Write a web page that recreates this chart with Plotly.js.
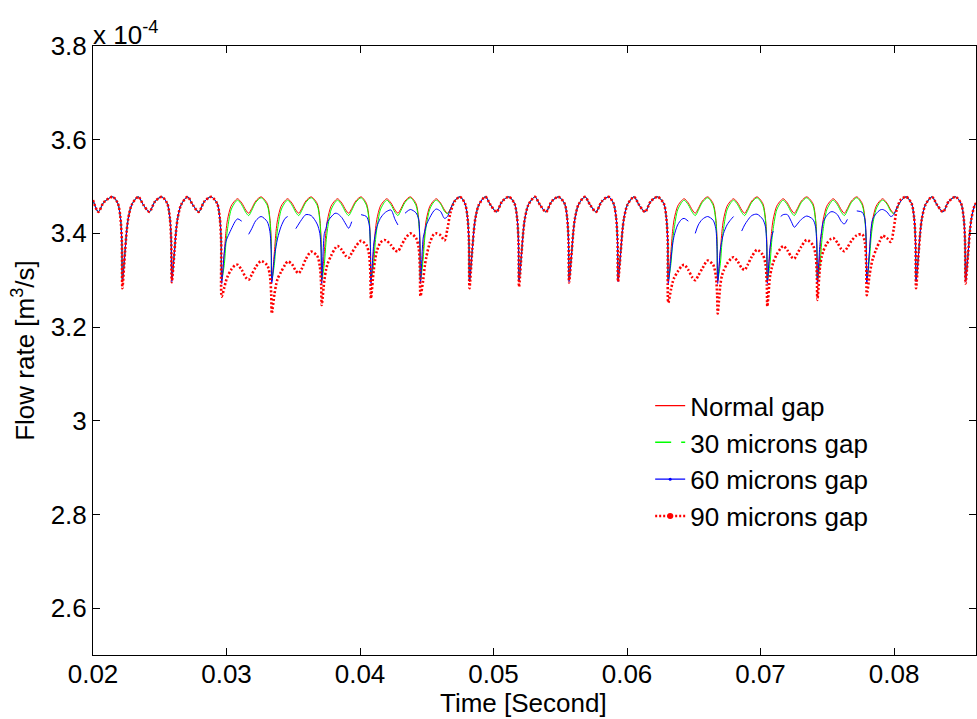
<!DOCTYPE html>
<html>
<head>
<meta charset="utf-8">
<script src="https://cdn.plot.ly/plotly-3.0.1.min.js"></script>
<style>html,body{margin:0;padding:0;background:#fff;}#chart{width:977px;height:719px;}</style>
</head>
<body>
<div id="chart"></div>
<script>
// Time [s]
const time = [
  0.02000, 0.02040, 0.02080, 0.02148, 0.02186, 0.02206, 0.02216,
  0.02220, 0.02240, 0.02252, 0.02264, 0.02290, 0.02339, 0.02377, 0.02422, 0.02464, 0.02515, 0.02556, 0.02576, 0.02586,
  0.02590, 0.02610, 0.02622, 0.02634, 0.02660, 0.02709, 0.02747, 0.02792, 0.02834, 0.02885, 0.02930, 0.02950, 0.02960,
  0.02964, 0.02984, 0.02996, 0.03008, 0.03034, 0.03064, 0.03083, 0.03114, 0.03144, 0.03166, 0.03189, 0.03219, 0.03259, 0.03305, 0.03325, 0.03335,
  0.03339, 0.03359, 0.03371, 0.03383, 0.03409, 0.03439, 0.03458, 0.03489, 0.03519, 0.03541, 0.03564, 0.03594, 0.03634, 0.03679, 0.03699, 0.03709,
  0.03713, 0.03733, 0.03745, 0.03757, 0.03783, 0.03813, 0.03832, 0.03863, 0.03893, 0.03915, 0.03938, 0.03968, 0.04008, 0.04048, 0.04068, 0.04078,
  0.04082, 0.04102, 0.04114, 0.04126, 0.04152, 0.04182, 0.04201, 0.04232, 0.04262, 0.04284, 0.04307, 0.04337, 0.04377, 0.04419, 0.04439, 0.04449,
  0.04453, 0.04473, 0.04485, 0.04497, 0.04523, 0.04553, 0.04572, 0.04603, 0.04633, 0.04655, 0.04678, 0.04708, 0.04748, 0.04786, 0.04806, 0.04816,
  0.04820, 0.04840, 0.04852, 0.04864, 0.04890, 0.04939, 0.04977, 0.05022, 0.05064, 0.05115, 0.05157, 0.05177, 0.05187,
  0.05191, 0.05211, 0.05223, 0.05235, 0.05261, 0.05310, 0.05348, 0.05393, 0.05435, 0.05486, 0.05532, 0.05552, 0.05562,
  0.05566, 0.05586, 0.05598, 0.05610, 0.05636, 0.05685, 0.05723, 0.05768, 0.05810, 0.05861, 0.05899, 0.05919, 0.05929,
  0.05933, 0.05953, 0.05965, 0.05977, 0.06003, 0.06052, 0.06090, 0.06135, 0.06177, 0.06228, 0.06275, 0.06295, 0.06305,
  0.06309, 0.06329, 0.06341, 0.06353, 0.06379, 0.06409, 0.06428, 0.06459, 0.06489, 0.06511, 0.06534, 0.06564, 0.06604, 0.06645, 0.06665, 0.06675,
  0.06679, 0.06699, 0.06711, 0.06723, 0.06749, 0.06779, 0.06798, 0.06829, 0.06859, 0.06881, 0.06904, 0.06934, 0.06974, 0.07017, 0.07037, 0.07047,
  0.07051, 0.07071, 0.07083, 0.07095, 0.07121, 0.07151, 0.07170, 0.07201, 0.07231, 0.07253, 0.07276, 0.07306, 0.07346, 0.07392, 0.07412, 0.07422,
  0.07426, 0.07446, 0.07458, 0.07470, 0.07496, 0.07526, 0.07545, 0.07576, 0.07606, 0.07628, 0.07651, 0.07681, 0.07721, 0.07762, 0.07782, 0.07792,
  0.07796, 0.07816, 0.07828, 0.07840, 0.07866, 0.07896, 0.07915, 0.07946, 0.07976, 0.07998, 0.08021, 0.08051, 0.08091, 0.08131, 0.08151, 0.08161,
  0.08165, 0.08185, 0.08197, 0.08209, 0.08235, 0.08284, 0.08322, 0.08367, 0.08409, 0.08460, 0.08502, 0.08522, 0.08532,
  0.08536, 0.08556, 0.08568, 0.08580, 0.08606, 0.08655
];

// Flow rate [x 1e-4 m^3/s]
const normalFlow = [
  3.471, 3.446, 3.466, 3.478, 3.464, 3.432, 3.382,
  3.300, 3.361, 3.404, 3.432, 3.461, 3.478, 3.461, 3.446, 3.468, 3.478, 3.464, 3.432, 3.382,
  3.302, 3.361, 3.404, 3.432, 3.461, 3.478, 3.461, 3.446, 3.468, 3.478, 3.464, 3.432, 3.382,
  3.300, 3.361, 3.404, 3.430, 3.458, 3.470, 3.474, 3.465, 3.450, 3.443, 3.453, 3.469, 3.478, 3.464, 3.432, 3.382,
  3.298, 3.361, 3.404, 3.430, 3.458, 3.470, 3.474, 3.465, 3.450, 3.443, 3.453, 3.469, 3.478, 3.464, 3.432, 3.382,
  3.300, 3.361, 3.404, 3.430, 3.458, 3.470, 3.474, 3.465, 3.450, 3.443, 3.453, 3.469, 3.478, 3.464, 3.432, 3.382,
  3.301, 3.361, 3.404, 3.430, 3.458, 3.470, 3.474, 3.465, 3.450, 3.443, 3.453, 3.469, 3.478, 3.464, 3.432, 3.382,
  3.300, 3.361, 3.404, 3.430, 3.458, 3.470, 3.474, 3.465, 3.450, 3.443, 3.453, 3.469, 3.478, 3.464, 3.432, 3.382,
  3.298, 3.361, 3.404, 3.432, 3.461, 3.478, 3.461, 3.446, 3.468, 3.478, 3.464, 3.432, 3.382,
  3.298, 3.361, 3.404, 3.432, 3.461, 3.478, 3.461, 3.446, 3.468, 3.478, 3.464, 3.432, 3.382,
  3.300, 3.361, 3.404, 3.432, 3.461, 3.478, 3.461, 3.446, 3.468, 3.478, 3.464, 3.432, 3.382,
  3.302, 3.361, 3.404, 3.432, 3.461, 3.478, 3.461, 3.446, 3.468, 3.478, 3.464, 3.432, 3.382,
  3.300, 3.361, 3.404, 3.430, 3.458, 3.470, 3.474, 3.465, 3.450, 3.443, 3.453, 3.469, 3.478, 3.464, 3.432, 3.382,
  3.298, 3.361, 3.404, 3.430, 3.458, 3.470, 3.474, 3.465, 3.450, 3.443, 3.453, 3.469, 3.478, 3.464, 3.432, 3.382,
  3.300, 3.361, 3.404, 3.430, 3.458, 3.470, 3.474, 3.465, 3.450, 3.443, 3.453, 3.469, 3.478, 3.464, 3.432, 3.382,
  3.301, 3.361, 3.404, 3.430, 3.458, 3.470, 3.474, 3.465, 3.450, 3.443, 3.453, 3.469, 3.478, 3.464, 3.432, 3.382,
  3.300, 3.361, 3.404, 3.430, 3.458, 3.470, 3.474, 3.465, 3.450, 3.443, 3.453, 3.469, 3.478, 3.464, 3.432, 3.382,
  3.298, 3.361, 3.404, 3.432, 3.461, 3.478, 3.461, 3.446, 3.468, 3.478, 3.464, 3.432, 3.382,
  3.300, 3.361, 3.404, 3.432, 3.461, 3.478
];

const gap30Flow = [
  3.471, 3.446, 3.466, 3.478, 3.464, 3.432, 3.382,
  3.300, 3.361, 3.404, 3.432, 3.461, 3.478, 3.461, 3.446, 3.468, 3.478, 3.464, 3.432, 3.382,
  3.302, 3.361, 3.404, 3.432, 3.461, 3.478, 3.461, 3.446, 3.468, 3.478, 3.464, 3.432, 3.382,
  3.300, 3.335, 3.380, 3.410, 3.450, 3.466, 3.471, 3.461, 3.445, 3.438, 3.449, 3.466, 3.476, 3.460, 3.427, 3.372,
  3.300, 3.335, 3.380, 3.410, 3.450, 3.466, 3.471, 3.461, 3.445, 3.438, 3.449, 3.466, 3.476, 3.460, 3.427, 3.372,
  3.300, 3.335, 3.380, 3.410, 3.450, 3.466, 3.471, 3.461, 3.445, 3.438, 3.449, 3.466, 3.476, 3.460, 3.427, 3.372,
  3.300, 3.335, 3.380, 3.410, 3.450, 3.466, 3.471, 3.461, 3.445, 3.438, 3.449, 3.466, 3.476, 3.460, 3.427, 3.372,
  3.300, 3.345, 3.390, 3.418, 3.452, 3.467, 3.471, 3.463, 3.447, 3.442, 3.452, 3.469, 3.478, 3.464, 3.432, 3.382,
  3.298, 3.361, 3.404, 3.432, 3.461, 3.478, 3.461, 3.446, 3.468, 3.478, 3.464, 3.432, 3.382,
  3.298, 3.361, 3.404, 3.432, 3.461, 3.478, 3.461, 3.446, 3.468, 3.478, 3.464, 3.432, 3.382,
  3.300, 3.361, 3.404, 3.432, 3.461, 3.478, 3.461, 3.446, 3.468, 3.478, 3.464, 3.432, 3.382,
  3.302, 3.361, 3.404, 3.432, 3.461, 3.478, 3.461, 3.446, 3.468, 3.478, 3.464, 3.432, 3.382,
  3.300, 3.335, 3.380, 3.410, 3.450, 3.466, 3.471, 3.461, 3.445, 3.438, 3.449, 3.466, 3.476, 3.460, 3.427, 3.372,
  3.300, 3.335, 3.380, 3.410, 3.450, 3.466, 3.471, 3.461, 3.445, 3.438, 3.449, 3.466, 3.476, 3.460, 3.427, 3.372,
  3.300, 3.335, 3.380, 3.410, 3.450, 3.466, 3.471, 3.461, 3.445, 3.438, 3.449, 3.466, 3.476, 3.460, 3.427, 3.372,
  3.300, 3.335, 3.380, 3.410, 3.450, 3.466, 3.471, 3.461, 3.445, 3.438, 3.449, 3.466, 3.476, 3.460, 3.427, 3.372,
  3.300, 3.345, 3.390, 3.418, 3.452, 3.467, 3.471, 3.463, 3.447, 3.442, 3.452, 3.469, 3.478, 3.464, 3.432, 3.382,
  3.298, 3.361, 3.404, 3.432, 3.461, 3.478, 3.461, 3.446, 3.468, 3.478, 3.464, 3.432, 3.382,
  3.300, 3.361, 3.404, 3.432, 3.461, 3.478
];

const gap60Flow = [
  3.471, 3.446, 3.466, 3.478, 3.464, 3.432, 3.382,
  3.297, 3.361, 3.404, 3.432, 3.461, 3.478, 3.461, 3.446, 3.468, 3.478, 3.464, 3.432, 3.382,
  3.297, 3.361, 3.404, 3.432, 3.461, 3.478, 3.461, 3.446, 3.468, 3.478, 3.464, 3.432, 3.382,
  3.293, 3.360, 3.383, 3.392, 3.408, 3.425, 3.431, 3.426, null, 3.398, 3.410, 3.427, 3.436, 3.425, 3.404, 3.360,
  3.293, 3.350, 3.372, 3.390, 3.415, 3.432, 3.436, null, 3.410, 3.420, 3.430, 3.440, 3.438, 3.420, 3.400, 3.360,
  3.293, 3.400, 3.410, 3.425, 3.435, 3.443, 3.442, 3.434, 3.420, 3.411, 3.425, null, 3.440, 3.436, 3.420, 3.370,
  3.293, 3.375, 3.398, 3.414, 3.432, 3.443, 3.447, 3.450, 3.430, 3.418, null, 3.443, 3.451, 3.444, 3.430, 3.370,
  3.293, 3.390, 3.405, 3.418, 3.434, 3.448, 3.452, 3.447, 3.432, 3.436, 3.452, 3.470, 3.478, 3.464, 3.432, 3.382,
  3.297, 3.361, 3.404, 3.432, 3.461, 3.478, 3.461, 3.446, 3.468, 3.478, 3.464, 3.432, 3.382,
  3.297, 3.361, 3.404, 3.432, 3.461, 3.478, 3.461, 3.446, 3.468, 3.478, 3.464, 3.432, 3.382,
  3.297, 3.361, 3.404, 3.432, 3.461, 3.478, 3.461, 3.446, 3.468, 3.478, 3.464, 3.432, 3.382,
  3.297, 3.361, 3.404, 3.432, 3.461, 3.478, 3.461, 3.446, 3.468, 3.478, 3.464, 3.432, 3.382,
  3.293, 3.345, 3.375, 3.395, 3.418, 3.430, 3.432, 3.426, null, 3.400, 3.418, 3.430, 3.436, 3.428, 3.410, 3.360,
  3.293, 3.365, 3.385, 3.400, 3.418, 3.430, 3.436, null, 3.405, 3.418, 3.428, 3.438, 3.441, 3.430, 3.414, 3.370,
  3.293, 3.370, 3.392, 3.405, null, 3.436, 3.440, 3.440, 3.425, 3.413, 3.420, 3.430, 3.437, 3.430, 3.414, 3.370,
  3.293, 3.380, 3.405, 3.425, 3.438, 3.446, 3.446, 3.440, 3.425, 3.420, 3.430, null, 3.448, 3.445, 3.430, 3.370,
  3.293, 3.360, 3.410, 3.430, 3.442, 3.450, 3.451, 3.446, 3.436, 3.440, 3.455, 3.469, 3.478, 3.464, 3.432, 3.382,
  3.297, 3.361, 3.404, 3.432, 3.461, 3.478, 3.461, 3.446, 3.468, 3.478, 3.464, 3.432, 3.382,
  3.297, 3.361, 3.404, 3.432, 3.461, 3.478
];

const gap90Flow = [
  3.471, 3.446, 3.466, 3.478, 3.464, 3.432, 3.382,
  3.283, 3.361, 3.404, 3.432, 3.461, 3.478, 3.461, 3.446, 3.468, 3.478, 3.464, 3.432, 3.382,
  3.296, 3.361, 3.404, 3.432, 3.461, 3.478, 3.461, 3.446, 3.468, 3.478, 3.464, 3.432, 3.382,
  3.265, 3.285, 3.298, 3.308, 3.322, 3.332, 3.333, 3.322, 3.306, 3.301, 3.312, 3.328, 3.341, 3.332, 3.310, 3.270,
  3.229, 3.270, 3.290, 3.303, 3.318, 3.333, 3.340, 3.335, 3.320, 3.315, 3.325, 3.345, 3.361, 3.352, 3.330, 3.290,
  3.247, 3.300, 3.322, 3.335, 3.352, 3.368, 3.373, 3.365, 3.352, 3.348, 3.358, 3.372, 3.384, 3.375, 3.355, 3.310,
  3.261, 3.320, 3.345, 3.362, 3.380, 3.386, 3.384, 3.375, 3.364, 3.362, 3.372, 3.388, 3.400, 3.390, 3.370, 3.320,
  3.266, 3.300, 3.330, 3.350, 3.380, 3.398, 3.400, 3.396, 3.385, 3.410, 3.445, 3.468, 3.478, 3.464, 3.432, 3.382,
  3.283, 3.361, 3.404, 3.432, 3.461, 3.478, 3.461, 3.446, 3.468, 3.478, 3.464, 3.432, 3.382,
  3.286, 3.361, 3.404, 3.432, 3.461, 3.478, 3.461, 3.446, 3.468, 3.478, 3.464, 3.432, 3.382,
  3.295, 3.361, 3.404, 3.432, 3.461, 3.478, 3.461, 3.446, 3.468, 3.478, 3.464, 3.432, 3.382,
  3.297, 3.361, 3.404, 3.432, 3.461, 3.478, 3.461, 3.446, 3.468, 3.478, 3.464, 3.432, 3.382,
  3.252, 3.280, 3.295, 3.305, 3.318, 3.330, 3.333, 3.322, 3.306, 3.300, 3.310, 3.325, 3.342, 3.333, 3.310, 3.270,
  3.229, 3.290, 3.310, 3.320, 3.335, 3.346, 3.349, 3.340, 3.326, 3.322, 3.333, 3.350, 3.365, 3.354, 3.335, 3.290,
  3.244, 3.308, 3.325, 3.338, 3.355, 3.368, 3.373, 3.364, 3.350, 3.346, 3.357, 3.372, 3.386, 3.375, 3.355, 3.310,
  3.258, 3.330, 3.350, 3.362, 3.378, 3.388, 3.390, 3.380, 3.366, 3.362, 3.370, 3.384, 3.396, 3.398, 3.380, 3.330,
  3.268, 3.310, 3.330, 3.345, 3.366, 3.385, 3.395, 3.390, 3.382, 3.410, 3.452, 3.472, 3.478, 3.464, 3.432, 3.382,
  3.283, 3.361, 3.404, 3.432, 3.461, 3.478, 3.461, 3.446, 3.468, 3.478, 3.464, 3.432, 3.382,
  3.293, 3.361, 3.404, 3.432, 3.461, 3.478
];

const seriesNames = ['Normal gap', '30 microns gap', '60 microns gap', '90 microns gap'];
const xTickVals = [0.02, 0.03, 0.04, 0.05, 0.06, 0.07, 0.08];
const xTickText = ['0.02', '0.03', '0.04', '0.05', '0.06', '0.07', '0.08'];
const yTickVals = [2.6, 2.8, 3.0, 3.2, 3.4, 3.6, 3.8];
const yTickText = ['2.6', '2.8', '3', '3.2', '3.4', '3.6', '3.8'];
const xTitle = 'Time [Second]';
const yTitle = 'Flow rate [m<sup>3</sup>/s]';
const yExponent = 'x 10<sup>-4</sup>';

const FONT = 'Liberation Sans, Arial, Helvetica, sans-serif';
const FS = 26;
const lineShape = {shape: 'spline', smoothing: 0.8};

const traces = [
  {x: time, y: normalFlow, mode: 'lines', showlegend: false, hoverinfo: 'skip',
   line: Object.assign({color: '#ff0000', width: 1}, lineShape)},
  {x: time, y: gap30Flow, mode: 'lines', showlegend: false, hoverinfo: 'skip',
   line: Object.assign({color: '#00ff00', width: 1}, lineShape)},
  {x: time, y: gap60Flow, mode: 'lines', showlegend: false, hoverinfo: 'skip', connectgaps: false,
   line: Object.assign({color: '#0000ff', width: 1}, lineShape)},
  {x: time, y: gap90Flow, mode: 'lines', showlegend: false, hoverinfo: 'skip',
   line: Object.assign({color: '#ff0000', width: 2.6, dash: '2px,2px'}, lineShape)},
  // legend entries
  {x: [null], y: [null], name: seriesNames[0], mode: 'lines',
   line: {color: '#ff0000', width: 1.3}},
  {x: [null], y: [null], name: seriesNames[1], mode: 'lines',
   line: {color: '#00ff00', width: 1.5, dash: '16px,10px,4px'}},
  {x: [null], y: [null], name: seriesNames[2], mode: 'lines+markers',
   line: {color: '#0000ff', width: 1.2}, marker: {color: '#0000ff', size: 3}},
  {x: [null], y: [null], name: seriesNames[3], mode: 'lines+markers',
   line: {color: '#ff0000', width: 2.6, dash: '2px,2px'}, marker: {color: '#ff0000', size: 6}}
];

const layout = {
  width: 977, height: 719,
  margin: {l: 93, r: 1, t: 46, b: 64, pad: 0},
  paper_bgcolor: '#ffffff', plot_bgcolor: '#ffffff',
  font: {family: FONT, size: FS, color: '#000000'},
  showlegend: true,
  legend: {x: 0.631, y: 0.448, xanchor: 'left', yanchor: 'top', bgcolor: 'rgba(255,255,255,0)',
           borderwidth: 0, font: {family: FONT, size: FS, color: '#000'},
           traceorder: 'normal'},
  xaxis: {
    range: [0.02, 0.08614], tickvals: xTickVals, ticktext: xTickText,
    ticks: 'inside', ticklen: 7, tickcolor: '#000', tickwidth: 1,
    showline: true, linecolor: '#000', linewidth: 1, mirror: 'ticks',
    showgrid: false, zeroline: false, tickfont: {size: FS}, ticklabelstandoff: -4
  },
  yaxis: {
    range: [2.5, 3.8], tickvals: yTickVals, ticktext: yTickText,
    ticks: 'inside', ticklen: 7, tickcolor: '#000', tickwidth: 1,
    showline: true, linecolor: '#000', linewidth: 1, mirror: 'ticks',
    showgrid: false, zeroline: false, tickfont: {size: FS},
    title: {text: yTitle, font: {size: FS}, standoff: 8}
  },
  annotations: [
    {xref: 'paper', yref: 'paper', x: 0, y: 1, xanchor: 'left', yanchor: 'bottom',
     text: yExponent, showarrow: false, font: {size: FS}, xshift: -2, yshift: -6},
    {xref: 'paper', yref: 'paper', x: 0.487, y: 0, xanchor: 'center', yanchor: 'top',
     text: xTitle, showarrow: false, font: {size: FS}, yshift: -31}
  ]
};

Plotly.newPlot('chart', traces, layout, {displayModeBar: false, staticPlot: true});
</script>
</body>
</html>
